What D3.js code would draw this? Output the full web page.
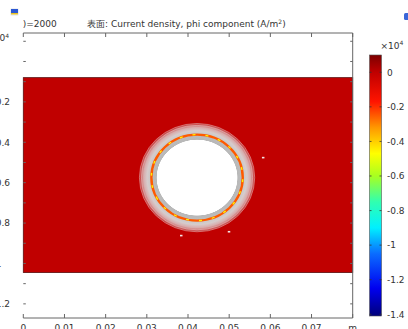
<!DOCTYPE html>
<html>
<head>
<meta charset="utf-8">
<script src="https://cdn.jsdelivr.net/npm/d3@7"></script>
<style>
    body { margin: 0; background: #fff; overflow: hidden; }
    text { font-family: "DejaVu Sans", sans-serif; font-size: 9px; fill: #333; }
</style>
</head>
<body>
<svg id="chart"></svg>
<script>
// axis ticks and labels
const xTicks = [0, 0.01, 0.02, 0.03, 0.04, 0.05, 0.06, 0.07, 0.08];
const xTickLabels = ["0", "0.01", "0.02", "0.03", "0.04", "0.05", "0.06", "0.07", "m"];
const yMinorTicks = [0.1, 0, -0.1, -0.2, -0.3, -0.4, -0.5, -0.6, -0.7, -0.8, -0.9, -1, -1.1, -1.2];
const yTicks = [0, -0.2, -0.4, -0.6, -0.8, -1, -1.2];
const yTickLabels = ["0", "-0.2", "-0.4", "-0.6", "-0.8", "-1", "-1.2"];

// colour legend
const colorTicks = [0, -0.2, -0.4, -0.6, -0.8, -1, -1.2, -1.4];
const colorTickLabels = ["0", "-0.2", "-0.4", "-0.6", "-0.8", "-1", "-1.2", "-1.4"];
const colorStopValues = [0.1, 0, -0.17, -0.32, -0.47, -0.6, -0.75, -0.9, -1.05, -1.25, -1.41];
const colorStopColors = ["#7c0000", "#c00000", "#ff1400", "#ff9800", "#ffff00", "#a8ff20",
    "#30ffb0", "#00f0ff", "#0a6cff", "#0000f0", "#00007a"];
const colorRange = [0.1, -1.41];

// geometry of the surface plot
const plateX = [0, 0.08];
const plateY = [-0.08, -1.045];
const plateValue = 0;
const holeCenter = [0.0422, -0.575];
const holeRadius = 0.0141;      // outer edge of the disturbed zone, m
const holeRadiusY = 0.27;       // same edge on the y axis
const haloOffsets = [0, 0.69, 0.70, 0.76, 0.80, 0.86, 0.92, 0.97, 1];
const haloColors = ["#ffffff", "#ffffff", "#b8b8b8", "#bcbcbc", "#c8c8c8", "#d6cccc", "#d8acac", "#cc5a5a", "#c20404"];
const ringRadius = 0.0111;
const ringValues = [-0.25, -0.45];
const edgeArcs = [0.0135, 0.0140];
const specksX = [0.0582, 0.0383, 0.0499];
const specksY = [-0.477, -0.863, -0.844];

let chart = { width: 408, height: 329 };

const svg = d3.select("#chart")
    .attr("width", chart.width)
    .attr("height", chart.height);

const xscale = d3.scaleLinear().domain([0, 0.08]).range([23.3, 352.7]);
const yscale = d3.scaleLinear().domain([0.141, -1.27]).range([33, 318]);
const cscale = d3.scaleLinear().domain(colorRange).range([55, 316]);
const colorOf = d3.scaleLinear().domain(colorStopValues.slice().reverse())
    .range(colorStopColors.slice().reverse()).clamp(true);

const defs = svg.append("defs");

// header
svg.append("text").attr("x", 22.7).attr("y", 27).text(")=2000");
svg.append("text").attr("x", 87).attr("y", 27)
    .html("表面: Current density, phi component (A/m<tspan dy='-3.5' font-size='6'>2</tspan><tspan dy='3.5'>)</tspan>");

// small toolbar icons
svg.append("rect").attr("x", 10).attr("y", 8).attr("width", 9).attr("height", 8).attr("rx", 2).attr("fill", "#eef0f4");
svg.append("rect").attr("x", 11).attr("y", 9).attr("width", 7).attr("height", 4).attr("fill", "#2b57d2");
svg.append("rect").attr("x", 11).attr("y", 13).attr("width", 7).attr("height", 1.5).attr("fill", "#e8c020");
svg.append("rect").attr("x", 404).attr("y", 13).attr("width", 6).attr("height", 7).attr("rx", 1.5).attr("fill", "#3a66d8");

// y multiplier, mostly cut off at the left edge
svg.append("text").attr("x", 9).attr("y", 41).attr("text-anchor", "end")
    .html("×10<tspan dy='-3.5' font-size='6'>4</tspan>");

// plate
svg.append("rect")
    .attr("x", xscale(plateX[0]))
    .attr("y", yscale(plateY[0]))
    .attr("width", xscale(plateX[1]) - xscale(plateX[0]))
    .attr("height", yscale(plateY[1]) - yscale(plateY[0]))
    .attr("fill", colorOf(plateValue))
    .attr("stroke", "#5a1010")
    .attr("stroke-width", 0.8);

// hole with the disturbed zone around it
const grad = defs.append("radialGradient").attr("id", "halo");
grad.selectAll("stop")
    .data(haloOffsets)
    .enter()
    .append("stop")
    .attr("offset", d => d)
    .attr("stop-color", (d, i) => haloColors[i]);

const rx = xscale(holeRadius) - xscale(0);
const ry = yscale(-holeRadiusY) - yscale(0);
const hole = svg.append("g")
    .attr("transform", "translate(" + xscale(holeCenter[0]) + "," + yscale(holeCenter[1]) + ") scale(1," + (ry / rx) + ")");

hole.append("circle").attr("r", rx).attr("fill", "url(#halo)");

hole.selectAll(".arc")
    .data(edgeArcs)
    .enter()
    .append("circle")
    .attr("class", "arc")
    .attr("r", d => xscale(d) - xscale(0))
    .attr("fill", "none")
    .attr("stroke", "#ead0d0")
    .attr("stroke-width", 0.6)
    .attr("opacity", 0.8);

const rr = xscale(ringRadius) - xscale(0);
hole.append("circle").attr("r", rr).attr("fill", "none")
    .attr("stroke", colorOf(ringValues[0])).attr("stroke-width", 2.4);
hole.append("circle").attr("r", rr).attr("fill", "none")
    .attr("stroke", colorOf(ringValues[1])).attr("stroke-width", 1.4)
    .attr("stroke-dasharray", "3 10").attr("transform", "rotate(150)");

svg.selectAll(".speck")
    .data(specksX)
    .enter()
    .append("rect")
    .attr("class", "speck")
    .attr("x", d => xscale(d) - 1)
    .attr("y", (d, i) => yscale(specksY[i]) - 1)
    .attr("width", 2.5)
    .attr("height", 1.6)
    .attr("fill", "#f4e4e4");

// frame: top, right and bottom lines, ticks on all four sides
const frame = svg.append("g").attr("stroke", "#666").attr("stroke-width", 1).attr("fill", "none");
frame.append("path")
    .attr("d", "M" + xscale(0) + "," + yscale(0.141) + "H" + xscale(0.08) + "V" + yscale(-1.27) + "H" + xscale(0));

xTicks.forEach(t => {
    frame.append("line").attr("x1", xscale(t)).attr("x2", xscale(t))
        .attr("y1", yscale(0.141)).attr("y2", yscale(0.141) + 4);
    frame.append("line").attr("x1", xscale(t)).attr("x2", xscale(t))
        .attr("y1", yscale(-1.27)).attr("y2", yscale(-1.27) - 4);
});
yMinorTicks.forEach(t => {
    frame.append("line").attr("x1", xscale(0)).attr("x2", xscale(0) + 2.5)
        .attr("y1", yscale(t)).attr("y2", yscale(t));
    frame.append("line").attr("x1", xscale(0.08)).attr("x2", xscale(0.08) - 2.5)
        .attr("y1", yscale(t)).attr("y2", yscale(t));
});

svg.selectAll(".xlabel")
    .data(xTicks)
    .enter()
    .append("text")
    .attr("class", "xlabel")
    .attr("x", d => xscale(d))
    .attr("y", 330.5)
    .attr("text-anchor", "middle")
    .text((d, i) => xTickLabels[i]);

svg.selectAll(".ylabel")
    .data(yTicks)
    .enter()
    .append("text")
    .attr("class", "ylabel")
    .attr("x", -7.5)
    .attr("y", d => yscale(d) + 3.3)
    .text((d, i) => yTickLabels[i]);

// colour legend
const lg = defs.append("linearGradient").attr("id", "cbar")
    .attr("x1", 0).attr("y1", 0).attr("x2", 0).attr("y2", 1);
lg.selectAll("stop")
    .data(colorStopValues)
    .enter()
    .append("stop")
    .attr("offset", d => (cscale(d) - cscale(colorRange[0])) / (cscale(colorRange[1]) - cscale(colorRange[0])))
    .attr("stop-color", (d, i) => colorStopColors[i]);

svg.append("rect")
    .attr("x", 369.5)
    .attr("y", cscale(colorRange[0]))
    .attr("width", 12)
    .attr("height", cscale(colorRange[1]) - cscale(colorRange[0]))
    .attr("fill", "url(#cbar)")
    .attr("stroke", "#555")
    .attr("stroke-width", 0.6);

colorTicks.forEach(t => {
    svg.append("line").attr("x1", 369.5).attr("x2", 371.5)
        .attr("y1", cscale(t)).attr("y2", cscale(t)).attr("stroke", "#333").attr("stroke-width", 0.8);
    svg.append("line").attr("x1", 379.5).attr("x2", 381.5)
        .attr("y1", cscale(t)).attr("y2", cscale(t)).attr("stroke", "#333").attr("stroke-width", 0.8);
});

svg.selectAll(".clabel")
    .data(colorTicks)
    .enter()
    .append("text")
    .attr("class", "clabel")
    .attr("x", 387)
    .attr("y", d => cscale(d) + 3.3)
    .text((d, i) => colorTickLabels[i]);

svg.append("text").attr("x", 380.5).attr("y", 48.5)
    .html("×10<tspan dy='-3.5' font-size='6'>4</tspan>");
</script>
</body>
</html>
